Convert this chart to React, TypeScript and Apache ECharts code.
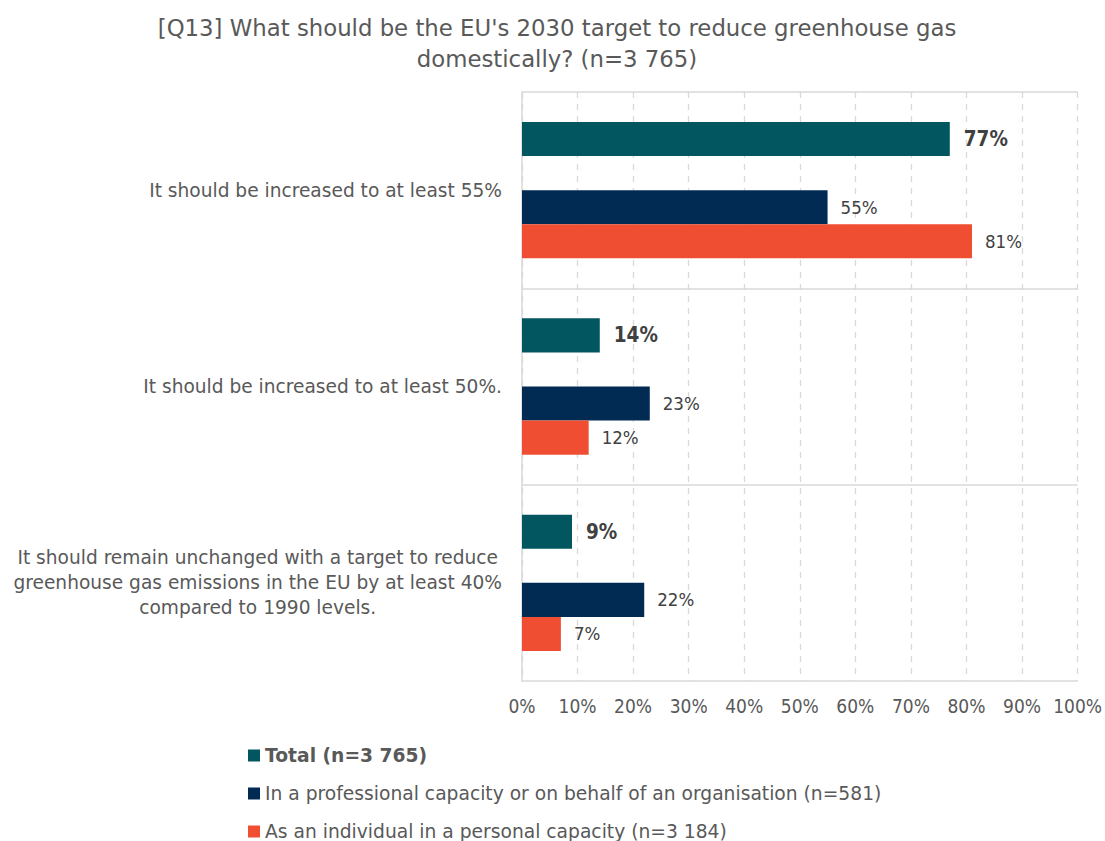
import React, { useEffect, useRef } from "react";
import * as echarts from "echarts";

const categories = [
  "It should be increased to at least 55%",
  "It should be increased to at least 50%.",
  "It should remain unchanged with a target to reduce\ngreenhouse gas emissions in the EU by at least 40%\ncompared to 1990 levels.",
];
const seriesNames = [
  "Total (n=3 765)",
  "In a professional capacity or on behalf of an organisation (n=581)",
  "As an individual in a personal capacity (n=3 184)",
];
const totalValues = [77, 14, 9];
const professionalValues = [55, 23, 22];
const individualValues = [81, 12, 7];
const xTicks = [0, 10, 20, 30, 40, 50, 60, 70, 80, 90, 100];
const colors = ["#02565F", "#012B52", "#F04E33"];

const narrow = '"DejaVu Sans Condensed", sans-serif';
const sans = '"DejaVu Sans", sans-serif';

export default function App() {
  const ref = useRef<HTMLDivElement>(null);
  useEffect(() => {
    const chart = echarts.init(ref.current!, null, { renderer: "svg" });
    const labelBase = {
      show: true,
      position: "right",
      distance: 13,
      color: "#404040",
      fontFamily: narrow,
      formatter: (p: any) => p.value + "%",
    };
    chart.setOption({
      animation: false,
      title: {
        text: "[Q13] What should be the EU's 2030 target to reduce greenhouse gas\ndomestically? (n=3 765)",
        left: 552,
        textAlign: "center",
        top: 7,
        textStyle: {
          fontFamily: sans,
          fontSize: 22.8,
          fontWeight: "normal",
          color: "#595959",
          lineHeight: 31,
        },
      },
      legend: {
        orient: "vertical",
        left: 248,
        top: 745,
        height: 200,
        padding: 0,
        icon: "rect",
        itemWidth: 12,
        itemHeight: 12,
        itemGap: 17,
        textStyle: { fontFamily: sans, fontSize: 18.7, color: "#595959", lineHeight: 21 },
        data: [
          { name: seriesNames[0], textStyle: { fontWeight: "bold" } },
          { name: seriesNames[1] },
          { name: seriesNames[2] },
        ],
      },
      grid: { left: 522, right: 24, top: 92, bottom: 160, containLabel: false },
      xAxis: {
        type: "value",
        min: 0,
        max: 100,
        interval: 10,
        axisLine: { show: false },
        axisTick: { show: false },
        axisLabel: {
          formatter: (v: number) => (xTicks.includes(v) ? v + "%" : ""),
          color: "#595959",
          fontFamily: narrow,
          fontSize: 19,
          margin: 15,
        },
        splitLine: { show: true, lineStyle: { color: "#D9D9D9", type: [6, 6], width: 1.3 } },
      },
      yAxis: {
        type: "category",
        data: categories,
        inverse: true,
        axisLine: { show: true, lineStyle: { color: "#D9D9D9", width: 1.5 } },
        axisTick: { show: false },
        splitLine: { show: true, lineStyle: { color: "#D9D9D9", width: 1.5 } },
        axisLabel: {
          margin: 20,
          color: "#595959",
          fontFamily: sans,
          fontSize: 18.6,
          lineHeight: 25,
          formatter: (v: string) =>
            v.includes("\n") ? v.split("\n").map((l) => "{c|" + l + "}").join("\n") : v,
          rich: { c: { align: "center", fontFamily: sans, fontSize: 18.6, lineHeight: 25, color: "#595959" } },
        },
      },
      series: [
        {
          name: seriesNames[0],
          type: "bar",
          data: totalValues,
          itemStyle: { color: colors[0] },
          barGap: "0%",
          barCategoryGap: "30.6%",
          label: { ...labelBase, fontSize: 20.5, fontWeight: "bold", distance: 14 },
        },
        {
          name: "_spacer",
          type: "bar",
          data: [null, null, null],
          itemStyle: { color: "transparent" },
          barGap: "0%",
        },
        {
          name: seriesNames[1],
          type: "bar",
          data: professionalValues,
          itemStyle: { color: colors[1] },
          barGap: "0%",
          label: { ...labelBase, fontSize: 18.5 },
        },
        {
          name: seriesNames[2],
          type: "bar",
          data: individualValues,
          itemStyle: { color: colors[2] },
          barGap: "0%",
          label: { ...labelBase, fontSize: 18.5 },
        },
      ],
    });
    return () => chart.dispose();
  }, []);
  return (
    <div
      ref={ref}
      style={{ position: "fixed", left: 0, top: 0, width: 1105, height: 841, background: "#fff" }}
    />
  );
}
